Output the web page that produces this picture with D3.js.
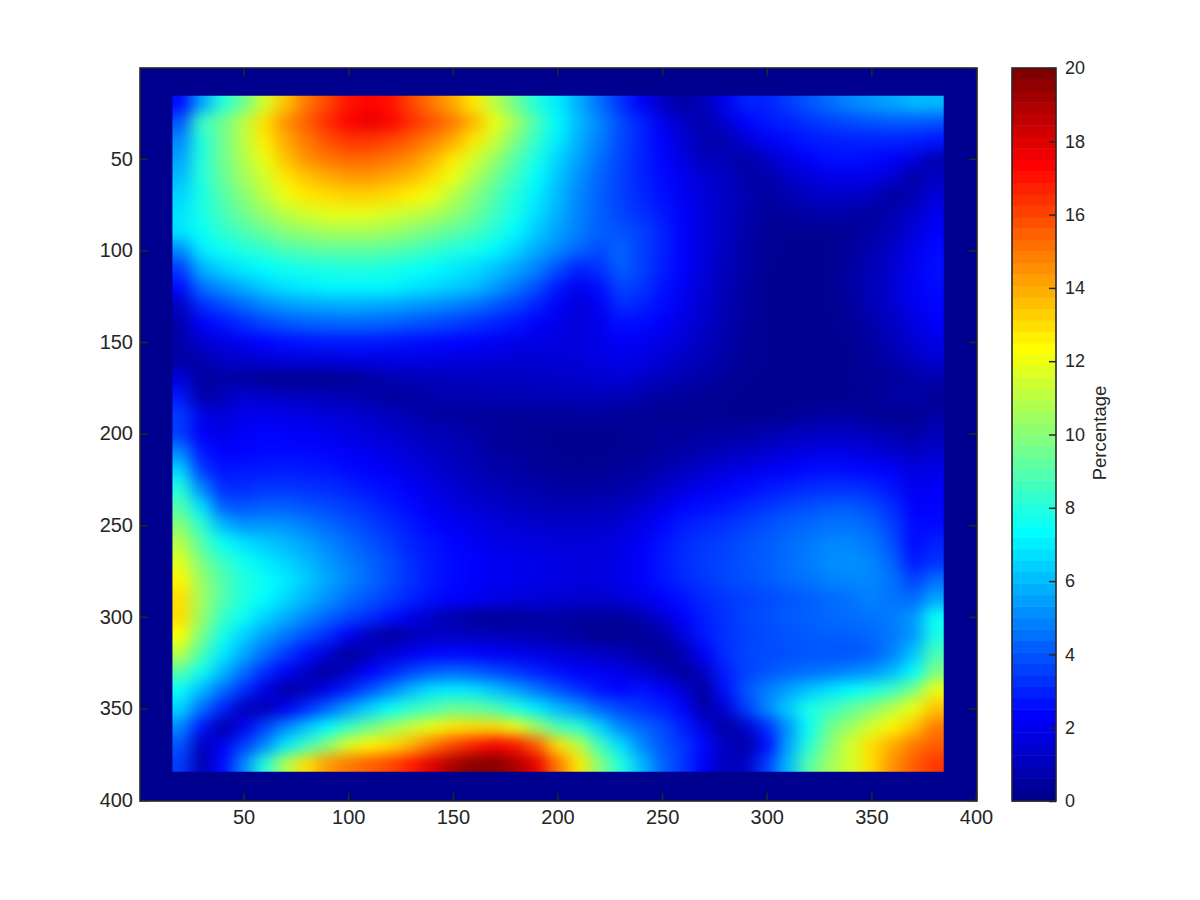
<!DOCTYPE html>
<html><head><meta charset="utf-8">
<script src="https://cdn.jsdelivr.net/npm/d3@7"></script>
<style>html,body{margin:0;padding:0;background:#fff}svg{display:block}text{font-family:"Liberation Sans",Arial,sans-serif;fill:#262626}</style>
</head><body><svg id="c" width="1200" height="900"></svg>
<script>
const xTicks=[50,100,150,200,250,300,350,400];
const yTicks=[50,100,150,200,250,300,350,400];
const barTicks=[0,2,4,6,8,10,12,14,16,18,20];
const barLabel="Percentage";
const xCenters=d3.range(20,381,10);
const yCenters=d3.range(20,381,10);
const percentage=[
[2.5,5.5,8,9.5,11.5,13.5,15,16,17,17.3,17,16,15,14,12.8,11,9.5,8,7,5.8,4.5,3.3,2.2,1.2,0.5,1,2,3,3,3.5,4,4.5,5,5.3,5.6,6,6],
[4,8.5,9.5,11,13,14.5,15.5,16.5,17.3,17.8,17.3,16.5,15.8,15,13.8,12,10.5,8.8,7.2,6,5,3.8,3,2,1.2,0.7,1.5,2.3,2.8,3,3.3,3.6,3.8,4,4.1,4.1,4],
[5,8,9.5,11,12.7,14,15,15.8,16.3,16.3,16,15.5,14.8,14,12.8,11.3,9.8,8.3,7,5.8,4.8,3.8,3,2.3,1.5,0.8,0.7,1.5,2.1,2.5,2.8,2.9,3,3,3,2.9,2.7],
[5.5,8,9.5,10.8,12,13.5,14.5,15,15.3,15.3,15,14.5,13.8,12.8,11.5,10.3,9,7.8,6.5,5.5,4.5,3.7,3,2.4,1.8,1,1,0.5,1.2,1.8,2.3,2.6,2.6,2.5,2.2,1.7,0.8],
[6,8,9.3,10.5,11.5,12.8,13.5,14,14.3,14.3,14,13.7,13,12,10.8,9.6,8.5,7.3,6.2,5.2,4.3,3.6,3,2.5,2,1.5,1.2,0.7,0.6,1.2,1.6,1.9,2,1.9,1.5,0.6,1.2],
[6.5,7.8,9,10,11,12,12.8,13,13.2,13.2,13,12.6,12,11,10,9,8,7,6,5,4.2,3.6,3.1,2.6,2.1,1.6,1.2,0.8,0.5,0.8,1.1,1.3,1.3,1.1,0.5,0.8,1.6],
[6.8,7.8,8.7,9.5,10.3,11,11.5,11.8,11.9,11.8,11.5,11.2,10.8,10.2,9.5,8.6,7.7,6.7,5.8,4.9,4.2,3.7,3.3,2.8,2.2,1.7,1.2,0.8,0.4,0.4,0.6,0.7,0.6,0.4,0.8,1.3,2],
[6.8,7.5,8.2,8.8,9.4,10,10.3,10.6,10.6,10.6,10.4,10,9.6,9.2,8.7,8,7.2,6.3,5.5,4.8,4.2,4,3.6,3,2.3,1.7,1.2,0.7,0.3,0.2,0.2,0.2,0.3,0.6,1,1.6,2.3],
[5,7,7.5,8,8.3,8.8,9,9.2,9.2,9.2,9,8.8,8.4,8,7.7,7.2,6.5,5.7,5,4.3,3.8,4.3,3.6,3,2.3,1.7,1.1,0.6,0.3,0.1,0.1,0.2,0.4,0.8,1.3,2,2.5],
[3.5,5.8,6.5,7,7.3,7.6,7.8,7.9,8,8,7.8,7.6,7.3,7,6.7,6.2,5.6,4.9,3.9,3,3.3,4.2,3.6,2.9,2.3,1.6,1,0.6,0.2,0.1,0.1,0.2,0.5,0.9,1.4,2.1,2.6],
[2.5,4.5,5.2,5.8,6.4,6.8,7,7.2,7.2,7.2,7.2,6.9,6.7,6.4,6.1,5.4,4.7,3.9,2.8,2,2.6,3.7,3.4,2.7,2.1,1.5,0.9,0.5,0.2,0.1,0.1,0.2,0.5,1,1.5,2.1,2.5],
[1.2,3.2,3.8,4.4,5,5.4,5.6,5.7,5.8,5.7,5.6,5.4,5.2,4.9,4.6,4.1,3.6,3,2.2,1.6,2.2,3.2,3,2.5,2,1.4,0.9,0.5,0.2,0.1,0.1,0.2,0.4,0.9,1.4,2,2.4],
[0.7,2.2,2.7,3.2,3.7,4,4.2,4.3,4.3,4.3,4.2,4,3.8,3.6,3.3,3,2.7,2.3,1.9,1.6,2,2.6,2.5,2.2,1.8,1.3,0.8,0.4,0.2,0.1,0.1,0.1,0.3,0.7,1.2,1.7,2.2],
[0.6,1.4,1.8,2.1,2.4,2.6,2.7,2.8,2.8,2.8,2.7,2.6,2.5,2.4,2.3,2.1,1.9,1.8,1.7,1.7,1.9,2.2,2.1,1.8,1.5,1.1,0.7,0.4,0.2,0.1,0.1,0.1,0.2,0.5,1,1.5,1.9],
[0.5,0.7,1.2,1.3,1.5,1.7,1.7,1.7,1.8,1.8,1.8,1.8,1.8,1.7,1.7,1.6,1.5,1.5,1.5,1.6,1.8,1.9,1.8,1.5,1.2,0.9,0.6,0.3,0.2,0.1,0.1,0.1,0.2,0.4,0.7,1.1,1.5],
[1.6,0.5,0.6,0.5,0.3,0.2,0.2,0.2,0.3,0.6,0.8,0.9,1,1.1,1.1,1.1,1.1,1.2,1.3,1.3,1.4,1.5,1.3,1,0.8,0.6,0.4,0.2,0.1,0.1,0.1,0.1,0.2,0.3,0.4,0.6,0.8],
[2.8,0.6,1,1.5,1.3,1.2,1.1,1,0.9,0.7,0.4,0.5,0.7,0.8,0.8,0.9,0.9,0.9,0.9,1,1,0.9,0.7,0.5,0.4,0.3,0.2,0.1,0.1,0.1,0.1,0.1,0.1,0.3,0.6,0.7,0.3],
[3.5,2,1.5,2,2,1.9,1.8,1.6,1.5,1.3,1.1,0.8,0.5,0.4,0.4,0.4,0.4,0.4,0.4,0.4,0.4,0.4,0.3,0.2,0.2,0.2,0.2,0.1,0.1,0.2,0.4,0.6,0.5,0.3,0.2,0.1,0.6],
[3.5,2.2,1.9,2.2,2.4,2.3,2.2,2,1.8,1.6,1.4,1.2,1,0.9,0.6,0.4,0.3,0.2,0.1,0.1,0.1,0.2,0.3,0.4,0.4,0.5,0.5,0.6,0.8,1,1.1,1.2,1.2,1,0.8,0.6,1],
[5,2.8,2.3,2.4,2.5,2.5,2.5,2.4,2.2,2,1.8,1.5,1.2,1,0.8,0.5,0.4,0.3,0.2,0.1,0.1,0.2,0.3,0.5,0.6,0.8,1,1.2,1.4,1.6,1.8,1.9,1.8,1.6,1.4,1.1,1.4],
[6.5,3.5,2.7,2.8,2.8,2.9,2.8,2.7,2.5,2.3,2.1,1.8,1.5,1.2,0.9,0.7,0.6,0.4,0.3,0.2,0.3,0.4,0.5,0.8,1.1,1.4,1.7,1.9,2.1,2.3,2.5,2.6,2.5,2.4,2.2,1.7,1.9],
[8,5,3.2,3.2,3.4,3.4,3.3,3.2,3,2.7,2.5,2.2,1.8,1.5,1.2,1,0.8,0.7,0.5,0.5,0.5,0.7,0.9,1.3,1.7,2,2.3,2.5,2.8,3,3.2,3.3,3.3,3.1,2.7,2,2.2],
[9,6.8,4.2,4,4.2,4.2,4,3.8,3.5,3.2,2.8,2.5,2.1,1.8,1.5,1.3,1.1,1,0.9,0.9,1,1.1,1.4,1.9,2.4,2.6,2.8,3.1,3.4,3.7,3.9,4.1,4.1,3.8,3.2,2.3,2.4],
[10,8.2,6,5.2,5.3,5.2,4.8,4.4,4,3.6,3.2,2.8,2.4,2.1,1.9,1.7,1.5,1.4,1.3,1.3,1.3,1.5,1.9,2.4,2.9,3.1,3.3,3.6,3.9,4.2,4.4,4.6,4.6,4.3,3.6,2.5,2.5],
[11,9,7.5,6.8,6.3,6,5.5,5,4.5,4,3.5,3,2.7,2.4,2.1,1.9,1.8,1.7,1.6,1.6,1.6,1.8,2.2,2.7,3.1,3.4,3.6,3.9,4.1,4.4,4.7,5,5,4.7,3.9,2.5,3],
[11.8,9.8,8.5,7.7,7,6.5,6,5.4,4.8,4.3,3.8,3.2,2.8,2.5,2.3,2.1,2,1.9,1.8,1.7,1.7,1.9,2.3,2.8,3.2,3.5,3.7,4,4.2,4.5,4.8,5.1,5.2,5,4.3,2.8,3.3],
[12.5,10.3,9,8,7.5,7,6.3,5.6,5,4.4,3.8,3.3,2.8,2.5,2.3,2.1,2,1.9,1.8,1.7,1.7,1.9,2.3,2.7,3.1,3.4,3.7,3.9,4.1,4.4,4.6,4.9,5,5,4.6,3.6,4.5],
[13,10.5,9,8,7.3,6.6,5.9,5.2,4.5,4,3.5,3,2.6,2.3,2.1,1.9,1.7,1.6,1.5,1.4,1.4,1.6,1.9,2.3,2.7,3.1,3.4,3.6,3.8,4,4.2,4.4,4.6,4.9,4.6,4.4,5.6],
[13,10.3,8.5,7.5,6.5,5.8,5,4.3,3.7,3.2,2.6,1.9,1.2,0.7,0.4,0.3,0.4,0.5,0.5,0.5,0.4,0.4,0.8,1.5,2.3,2.9,3.3,3.7,3.9,4.1,4.2,4.4,4.5,4.6,4.8,5.3,7.5],
[12.3,9.7,7.8,6.5,5.5,4.7,3.9,3.2,2.2,1,0.4,0.9,1.2,1.2,1.1,1,0.9,0.8,0.6,0.4,0.2,0.2,0.3,0.6,1.7,2.8,3.3,3.6,3.8,4,4.1,4.2,4.2,4.4,4.7,5.3,7.8],
[11,8.8,7,5.7,4.5,3.5,2.6,1.5,0.4,1,1.6,2,2.4,2.5,2.4,2.2,2,1.8,1.6,1.4,1.2,1,0.6,0.3,0.8,2.2,3.2,3.7,3.8,3.9,4,4,4,4.2,4.9,6.2,8.8],
[9,7.6,6,4.5,3.2,2.2,1.2,0.4,1.3,2.3,3,3.7,4.2,4.4,4.2,3.8,3.4,3,2.6,2.3,2.1,1.9,1.5,1,0.4,1.2,2.9,3.6,4,4.3,4.5,4.7,5,5.3,6,7.3,9.8],
[7.5,6,4.5,3.2,1.8,0.5,1,2,3,4,5,6,6.8,7,6.8,6.2,5.5,4.7,4,3.3,2.7,2.4,2.7,2.3,1.4,0.4,2.6,4,4.8,5.5,6.2,6.8,7.3,7.8,8.5,9.8,12],
[6.5,4.5,3,1,0.9,2.1,3.2,4.3,5.5,6.5,7.5,8.3,8.8,9.4,9.3,8.8,8,7,6,5.3,4.3,3.8,3.3,3,2.4,0.6,1.5,3.5,5,6.3,7.8,8.4,9.2,10,11,12,13.5],
[5,2.7,0.5,2,3.6,5,6.2,7.3,8.5,9.5,10.5,11.3,12,12.8,13,13,12,10.5,8.8,8.2,6.5,5,4.4,3.8,2.9,1.8,0.4,1.3,3.2,5.2,7.5,9.5,10.5,11.5,12.5,13.5,15],
[4,1,2,3.5,5,7,8.5,10,11.7,12.5,13,13.8,15,16,16.8,17.5,17,15.5,13,11,8.6,6.7,5,4,3.4,2.5,1.2,0.6,2.5,5.5,8,10,11.5,13,14,15,15.5],
[3.5,0.8,2.5,5,8,10.8,13,14.3,15,15.5,16,16.8,18,19,19.7,19.7,19,17.8,15,12.8,10,8,6,4.3,3.4,2.2,1,1.2,3.5,6,9,10.5,11.5,13,14.5,15.5,16.3]
];

const svg=d3.select("#c");
const ink="#262626";
const x=d3.scaleLinear().domain([0.5,400.5]).range([140,977]);
const y=d3.scaleLinear().domain([0.5,400.5]).range([68,801]);
const jetStops=d3.scaleLinear().domain([0,7,23,39,55,63])
  .range(["#00008f","#0000ff","#00ffff","#ffff00","#ff0000","#800000"]).clamp(true);
const color=v=>jetStops(v/20*64-0.5);

const defs=svg.append("defs");
defs.append("clipPath").attr("id","img").append("rect")
  .attr("x",x(16)).attr("y",y(15.7)).attr("width",x(384.6)-x(16)).attr("height",y(384.6)-y(15.7));
const f=defs.append("filter").attr("id","soft").attr("filterUnits","userSpaceOnUse")
  .attr("x",0).attr("y",0).attr("width",1200).attr("height",900)
  .attr("color-interpolation-filters","sRGB");
f.append("feGaussianBlur").attr("stdDeviation","8 7");

svg.append("rect").attr("x",x(0.5)).attr("y",y(0.5)).attr("width",x(400.5)-x(0.5)).attr("height",y(400.5)-y(0.5)).attr("fill",jetStops(0));

const cells=percentage.flatMap((row,r)=>row.map((v,c)=>({v,r,c})));
const nX=xCenters.length,nY=yCenters.length;
const gImg=svg.append("g").attr("clip-path","url(#img)").append("g").attr("filter","url(#soft)");
gImg.selectAll("rect").data(cells).join("rect")
  .attr("x",d=>x(d.c===0?xCenters[0]-25:xCenters[d.c]-5))
  .attr("y",d=>y(d.r===0?yCenters[0]-25:yCenters[d.r]-5))
  .attr("width",d=>x(d.c===nX-1?xCenters[d.c]+25:xCenters[d.c]+5)-x(d.c===0?xCenters[0]-25:xCenters[d.c]-5))
  .attr("height",d=>y(d.r===nY-1?yCenters[d.r]+25:yCenters[d.r]+5)-y(d.r===0?yCenters[0]-25:yCenters[d.r]-5))
  .attr("fill",d=>color(d.v))
  .attr("shape-rendering","crispEdges");

function styleAxis(g,size){
  g.select(".domain").remove();
  g.selectAll("line").attr("stroke",ink).attr("stroke-width",1.5);
  g.selectAll("text").attr("font-size",size).attr("fill",ink).style("font-family",'"Liberation Sans",Arial,sans-serif');
}
svg.append("g").attr("transform","translate(0,801)").call(d3.axisBottom(x).tickValues(xTicks).tickSize(-8).tickPadding(9)).call(styleAxis,20);
svg.append("g").attr("transform","translate(140,0)").call(d3.axisLeft(y).tickValues(yTicks).tickSize(-8).tickPadding(7)).call(styleAxis,20);
svg.append("g").attr("transform","translate(0,68)").call(d3.axisTop(x).tickValues(xTicks).tickSize(-8).tickFormat("")).call(styleAxis,20);
svg.append("g").attr("transform","translate(977,0)").call(d3.axisRight(y).tickValues(yTicks).tickSize(-8).tickFormat("")).call(styleAxis,20);
svg.append("rect").attr("x",140).attr("y",68).attr("width",837).attr("height",733).attr("fill","none").attr("stroke",ink).attr("stroke-width",1.6);

const by=d3.scaleLinear().domain([0,20]).range([801,68]);
const levels=d3.range(64);
svg.append("g").selectAll("rect").data(levels).join("rect")
  .attr("x",1012).attr("width",44)
  .attr("y",d=>by((d+1)*20/64)).attr("height",d=>by(d*20/64)-by((d+1)*20/64)+0.5)
  .attr("fill",d=>jetStops(d));
svg.append("g").attr("transform","translate(1056,0)").call(d3.axisRight(by).tickValues(barTicks).tickSize(-7).tickPadding(9)).call(styleAxis,18);
svg.append("rect").attr("x",1012).attr("y",68).attr("width",44).attr("height",733).attr("fill","none").attr("stroke",ink).attr("stroke-width",1.6);
svg.append("text").attr("transform","translate(1106,433) rotate(-90)").attr("text-anchor","middle")
  .attr("font-size",18.5).text(barLabel);
</script></body></html>
